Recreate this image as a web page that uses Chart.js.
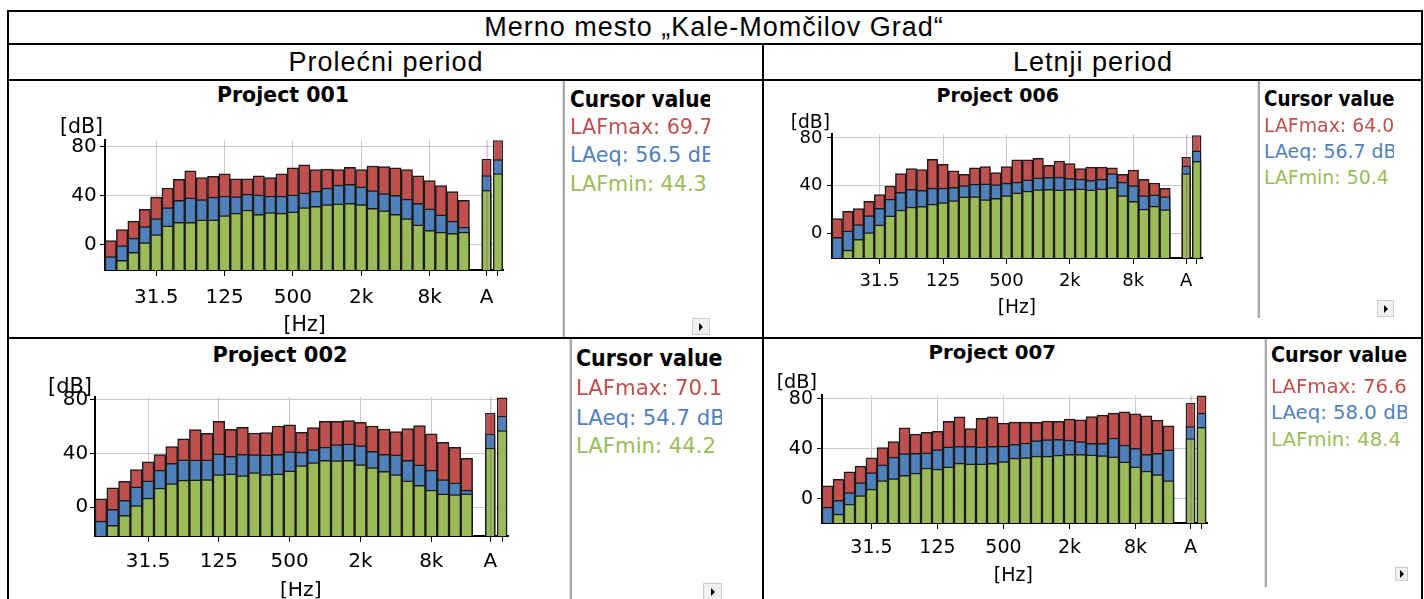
<!DOCTYPE html>
<html>
<head>
<meta charset="utf-8">
<title>Merno mesto Kale-Momčilov Grad</title>
<script src="https://cdn.jsdelivr.net/npm/chart.js@4.4.1/dist/chart.umd.min.js"></script>
<style>
  html, body { margin: 0; padding: 0; background: #fff; }
  body { width: 1424px; height: 599px; position: relative; overflow: hidden; font-family: "DejaVu Sans", sans-serif; color: #000; }
  .ln { position: absolute; background: #000; }
  .txt { position: absolute; white-space: nowrap; }
  .hdr { position: absolute; white-space: nowrap; text-align: center; font-family: "Liberation Sans", Arial, sans-serif; letter-spacing: 1px; }
  canvas { position: absolute; }
  .cur { position: absolute; overflow: hidden; white-space: nowrap; }
  .bold { font-family: "DejaVu Sans Condensed", "DejaVu Sans", sans-serif; font-stretch: condensed; font-weight: bold; }
  .sep { position: absolute; width: 2px; background: #a8a8a8; border-left: 1px solid #e2e2e2; }
  .btn { position: absolute; background: #f0f0f0; border: 1px solid #cdcdcd; box-sizing: border-box; }
  .btn:after { content: ""; position: absolute; left: 50%; top: 50%; margin: -4px 0 0 -2px;
    border-left: 4px solid #000; border-top: 4px solid transparent; border-bottom: 4px solid transparent; }
</style>
</head>
<body>
<script>
// 1/3 octave bands, then the broadband bars (A and the unlabelled one)
const bands = ['12.5', '16', '20', '25', '31.5', '40', '50', '63', '80', '100', '125', '160', '200', '250', '315', '400',
  '500', '630', '800', '1k', '1.25k', '1.6k', '2k', '2.5k', '3.15k', '4k', '5k', '6.3k', '8k', '10k', '12.5k', '16k']
const broadband = ['A', 'Z']
const tickLabels = ['31.5', '125', '500', '2k', '8k', 'A']
const yTicks = [0, 40, 80]
const seriesNames = ['LAFmax', 'LAeq', 'LAFmin']

// Project 001 (Prolecni period)
const p001Max = [3, 12, 19, 28.5, 38.5, 46, 53, 60, 54.5, 55.5, 57.5, 53.5, 53.5, 56, 54.5, 57.5,
  62.5, 65, 61, 61.5, 61, 63, 61, 64, 63.5, 62.5, 61, 56, 52, 48, 43, 36, 69.7, 85]
const p001Eq = [-10, -1, 5, 14.5, 21, 30, 36, 38, 36.5, 38.5, 39.5, 39, 41, 40.5, 39.5, 39.5,
  40.5, 42, 43.5, 46, 48.5, 49, 47, 44, 41.5, 40, 37, 33.5, 29, 24, 19, 14, 56.5, 69.5]
const p001Min = [-24, -13, -6.5, 1.5, 8, 15, 18, 18, 20, 20, 23.5, 25.5, 28, 24.5, 26, 25.5,
  26.5, 30, 31, 32.5, 33, 33.5, 32.5, 29.5, 27.5, 24.5, 21, 16, 11.5, 10, 9, 10, 44.3, 58]

// Project 002 (Prolecni period)
const p002Max = [6.2, 14.4, 19.3, 28, 33.7, 39.1, 45.1, 50.8, 57.7, 55, 63.9, 58, 59.4, 55.2, 55.5, 60.4,
  61.2, 55.7, 59.2, 63.9, 63.9, 64.4, 63.2, 60.4, 58.2, 56.2, 58.5, 60.7, 54.5, 48.3, 44.6, 36.4, 70.1, 81.7]
const p002Eq = [-10.4, -1.7, 5, 15.1, 19.6, 27.5, 32.7, 35.2, 35.2, 35.2, 39.6, 37.9, 39.4, 39.1, 38.9, 39.4,
  41.4, 40.9, 42.8, 44.8, 46.6, 47.1, 45.8, 41.6, 39.4, 38.9, 34.9, 31.5, 27.5, 20.6, 18.1, 12.6, 54.7, 68.1]
const p002Min = [-24, -13.6, -6.2, 1.2, 6.7, 14.1, 17.6, 20.1, 20.3, 20.6, 24.3, 24.8, 23.5, 25.8, 24.3, 24.8,
  27, 31, 33.2, 34.9, 34.7, 34.9, 31.7, 29.5, 26.7, 24.3, 19.6, 16.3, 12.6, 9.9, 9.4, 9.9, 44.2, 57.2]

// Project 006 (Letnji period)
const p006Max = [12.2, 18.3, 20.5, 26.6, 32.4, 39.6, 50.1, 54.3, 53.4, 62, 57.9, 52.3, 49.3, 54.8, 55.9, 50.9,
  55.9, 61.7, 61.7, 62.8, 57, 60.6, 58.4, 54.3, 55.4, 55.4, 54.8, 49.3, 52.9, 45.1, 42.1, 37.6, 64.0, 82.2]
const p006Eq = [-3.6, 1.9, 7.2, 14.7, 20.8, 28.5, 34.3, 36.8, 36, 37.9, 37.9, 38.5, 39.9, 41.2, 41.5, 40.7,
  42, 42.9, 44.8, 46.5, 46.8, 47.1, 46, 45.4, 44.3, 45.4, 50.1, 42.9, 39.9, 31.6, 32.1, 30.7, 56.7, 69.5]
const p006Min = [-24, -14.4, -5.3, 0.3, 6.9, 14.4, 19.4, 21.9, 22.4, 24.4, 25.7, 27.4, 30.4, 30.7, 28.2, 29.3,
  31.6, 33.8, 35.4, 36.5, 36.8, 36.3, 36.8, 37.1, 36.3, 37.1, 38.2, 31.6, 26.6, 20.2, 22.7, 19.7, 50.4, 60.6]

// Project 007 (Letnji period)
const p007Max = [10.3, 15.6, 21.6, 26.1, 32.7, 40.9, 45.7, 56.8, 51.7, 53.1, 53.9, 61.8, 65.5, 56.2, 64.2, 65.5,
  60.5, 61.3, 61.3, 61, 62, 61.8, 63.6, 63.1, 65.7, 66.8, 68.4, 69.4, 67.9, 66.3, 62.8, 58.3, 76.6, 82.6]
const p007Eq = [-6.6, -1.1, 5, 12.9, 20.9, 27.2, 33.3, 36.2, 36.4, 36.7, 39.3, 41.5, 42, 42, 41.5, 42,
  42.2, 43.6, 44.6, 46.5, 47.3, 47.5, 47, 45.7, 44.4, 44.4, 48.6, 43, 40.4, 35.6, 36.4, 39.1, 58.0, 68.6]
const p007Min = [-22, -12.1, -4.2, 2.6, 7.7, 14.5, 16.1, 18.7, 20.6, 24.6, 23.8, 25.6, 28.5, 28, 28, 28.3,
  29.8, 32.5, 33, 34.1, 34.1, 34.9, 35.6, 35.6, 35.1, 34.6, 33.5, 29.6, 25.6, 22.2, 19.3, 14.5, 48.4, 57.3]

const colMax = '#c0504d', colEq = '#4f81bd', colMin = '#9bbb59'

// table frame
function line(x, y, w, h) {
  const d = document.createElement('div')
  d.className = 'ln'
  Object.assign(d.style, { left: x + 'px', top: y + 'px', width: w + 'px', height: h + 'px' })
  document.body.appendChild(d)
}
line(7, 10, 1416, 2)
line(7, 43, 1416, 2)
line(7, 79, 1416, 2)
line(7, 337, 1416, 2)
line(7, 10, 2, 600)
line(1421, 10, 2, 600)
line(762, 43, 2, 600)

function header(text, cx, cy, size) {
  const d = document.createElement('div')
  d.className = 'hdr'
  d.textContent = text
  Object.assign(d.style, { left: (cx - 400) + 'px', width: '800px', top: (cy - 0.49 * size) + 'px',
    fontSize: size + 'px', lineHeight: size + 'px' })
  document.body.appendChild(d)
}
header('Merno mesto „Kale-Momčilov Grad“', 714, 27, 27)
header('Prolećni period', 386, 62.5, 27)
header('Letnji period', 1093, 62.5, 27)

function label(text, cx, cy, size, cls, k) {
  const d = document.createElement('div')
  d.className = 'txt ' + (cls || '')
  d.textContent = text
  Object.assign(d.style, { left: (cx - 200) + 'px', width: '400px', textAlign: 'center',
    top: (cy - (k || 0.48) * size) + 'px', fontSize: size + 'px', lineHeight: size + 'px' })
  if (cls === 'title') d.style.fontWeight = 'bold'
  document.body.appendChild(d)
}

const nB = bands.length
const labels = [...bands, '', ...broadband]
const gridIdx = labels.map((s, i) => (tickLabels.includes(s) && s !== 'A') ? i : -1).filter(i => i >= 0)

const cursorLine = {
  id: 'cursorLine',
  afterDatasetsDraw(chart) {
    const { ctx, chartArea } = chart
    const x = chart.scales.x.getPixelForValue(nB + 1) + 0.5
    ctx.save()
    ctx.strokeStyle = 'rgba(120,60,140,0.45)'
    ctx.lineWidth = 1
    ctx.beginPath()
    ctx.moveTo(x, chartArea.top)
    ctx.lineTo(x, chartArea.bottom)
    ctx.stroke()
    ctx.restore()
  }
}

function drawPanel(p) {
  const wy = 44, padTop = 14, padRight = 4, hx = 48
  const l = Math.round(p.l), t = Math.round(p.t)
  const pw = Math.round(p.r - p.l), ph = Math.round(p.b - p.t)
  const w = wy + pw + padRight, h = padTop + ph + hx
  const cv = document.createElement('canvas')
  cv.width = w
  cv.height = h
  Object.assign(cv.style, { left: (l - wy) + 'px', top: (t - padTop) + 'px', width: w + 'px', height: h + 'px' })
  document.body.appendChild(cv)

  const bandPart = arr => [...arr.slice(0, nB), null, null, null]
  const broadPart = arr => [...Array(nB + 1).fill(null), ...arr.slice(nB)]
  const common = {
    grouped: false, categoryPercentage: 1, base: p.yMin,
    borderColor: '#1b1b1b', borderWidth: 1.5,
    clip: { left: 2, right: 2, top: 2, bottom: 0 }
  }
  const datasets = []
  ;[[p.max, colMax, 3], [p.eq, colEq, 2], [p.min, colMin, 1]].forEach(([arr, col, ord], i) => {
    datasets.push({ ...common, label: seriesNames[i], data: bandPart(arr), backgroundColor: col, order: ord, barPercentage: 1 })
    datasets.push({ ...common, label: seriesNames[i] + ' (broadband)', data: broadPart(arr), backgroundColor: col, order: ord, barPercentage: 0.88 })
  })

  const font = { family: 'DejaVu Sans', size: p.fs }
  const xPad = p.lblY - (t + ph) - 6 - 0.6 * p.fs

  new Chart(cv.getContext('2d'), {
    type: 'bar',
    data: { labels, datasets },
    options: {
      responsive: false,
      animation: false,
      devicePixelRatio: 1,
      layout: { padding: { top: padTop, right: padRight, left: 0, bottom: 0 } },
      plugins: { legend: { display: false }, tooltip: { enabled: false } },
      scales: {
        x: {
          offset: true,
          grid: {
            offset: false, lineWidth: 1, tickLength: 6,
            color: c => gridIdx.includes(c.index) ? '#c9c9c9' : 'rgba(0,0,0,0)',
            tickColor: c => (gridIdx.includes(c.index) || c.index > nB) ? '#000' : 'rgba(0,0,0,0)'
          },
          border: { color: '#000', width: 2 },
          ticks: {
            autoSkip: false, maxRotation: 0, minRotation: 0, padding: xPad, color: '#000', font,
            callback: (v, i) => tickLabels.includes(labels[i]) ? labels[i] : ''
          },
          afterFit: s => { s.height = hx }
        },
        y: {
          min: p.yMin, max: p.yMax,
          afterBuildTicks: s => { s.ticks = yTicks.map(v => ({ value: v })) },
          grid: { color: '#c9c9c9', lineWidth: 1, tickColor: '#000', tickLength: 5 },
          border: { color: '#000', width: 2 },
          ticks: { padding: p.yPad, color: '#000', font, callback: v => String(v) },
          afterFit: s => { s.width = wy }
        }
      }
    },
    plugins: [cursorLine]
  })

  label(p.title, p.titleX, p.titleY, p.titleFs, 'title')
  label('[dB]', p.dbX, p.dbY, p.dbFs, '', 0.53)
  label('[Hz]', p.hzX, p.hzY, p.hzFs, '', 0.53)

  // cursor value panel
  const c = p.cur
  const sep = document.createElement('div')
  sep.className = 'sep'
  Object.assign(sep.style, { left: (c.x - 1) + 'px', top: c.y0 + 'px', height: (c.y1 - c.y0) + 'px' })
  document.body.appendChild(sep)
  const rows = [
    ['Cursor value', '#000', true],
    [`LAFmax: ${p.max[nB].toFixed(1)} dB`, colMax],
    [`LAeq: ${p.eq[nB].toFixed(1)} dB`, colEq],
    [`LAFmin: ${p.min[nB].toFixed(1)} dB`, colMin]
  ]
  rows.forEach(([text, color, bold], i) => {
    const size = bold ? c.fs * 1.09 : c.fs * 1.01
    const d = document.createElement('div')
    d.className = 'cur' + (bold ? ' bold' : '')
    d.textContent = text
    Object.assign(d.style, { left: c.tx + 'px', width: (c.clip - c.tx) + 'px', top: (c.base[i] - 0.846 * size) + 'px',
      fontSize: size + 'px', lineHeight: size + 'px', color })
    document.body.appendChild(d)
  })
  const b = document.createElement('div')
  b.className = 'btn'
  Object.assign(b.style, { left: c.btn[0] + 'px', top: c.btn[1] + 'px', width: c.btn[2] + 'px', height: c.btn[3] + 'px' })
  document.body.appendChild(b)
}

drawPanel({
  title: 'Project 001', max: p001Max, eq: p001Eq, min: p001Min,
  l: 105, r: 503.5, t: 139.3, b: 270.7, yMin: -21, yMax: 85, fs: 20, lblY: 298, yPad: 3.3,
  titleX: 283, titleY: 95, titleFs: 20.5, dbX: 81.5, dbY: 127, dbFs: 20.5, hzX: 304.7, hzY: 325, hzFs: 20.5,
  cur: { x: 563, y0: 81, y1: 337, tx: 570, clip: 710, fs: 20.5, base: [107, 135, 163, 192], btn: [692, 318, 18, 17] }
})
drawPanel({
  title: 'Project 006', max: p006Max, eq: p006Eq, min: p006Min,
  l: 832.3, r: 1202, t: 133, b: 258.3, yMin: -21, yMax: 83, fs: 18, lblY: 281.7, yPad: 4.6,
  titleX: 997.7, titleY: 95, titleFs: 19, dbX: 810.3, dbY: 122.7, dbFs: 18.7, hzX: 1016.8, hzY: 308.3, hzFs: 18.6,
  cur: { x: 1258, y0: 81, y1: 318, tx: 1264, clip: 1394, fs: 18.7, base: [106, 131.7, 157.7, 184.3], btn: [1377, 300, 17, 17] }
})
drawPanel({
  title: 'Project 002', max: p002Max, eq: p002Eq, min: p002Min,
  l: 95, r: 507.7, t: 397.3, b: 536.7, yMin: -21.5, yMax: 82, fs: 20, lblY: 561.7, yPad: 1.7,
  titleX: 280, titleY: 355, titleFs: 21, dbX: 70, dbY: 386.7, dbFs: 21, hzX: 300.8, hzY: 590, hzFs: 20.3,
  cur: { x: 570, y0: 339, y1: 599, tx: 576, clip: 722, fs: 21, base: [366, 395, 425, 453.3], btn: [703, 583, 19, 17] }
})
drawPanel({
  title: 'Project 007', max: p007Max, eq: p007Eq, min: p007Min,
  l: 821.7, r: 1207, t: 394, b: 522.7, yMin: -19.3, yMax: 82.6, fs: 19, lblY: 548.3, yPad: 4,
  titleX: 992.3, titleY: 353, titleFs: 19.8, dbX: 796.8, dbY: 381.7, dbFs: 19.2, hzX: 1013.3, hzY: 575, hzFs: 19,
  cur: { x: 1265, y0: 339, y1: 587, tx: 1271, clip: 1407, fs: 19.5, base: [361.7, 393.3, 420, 446.7], btn: [1395, 567, 13, 14] }
})
</script>
</body>
</html>
